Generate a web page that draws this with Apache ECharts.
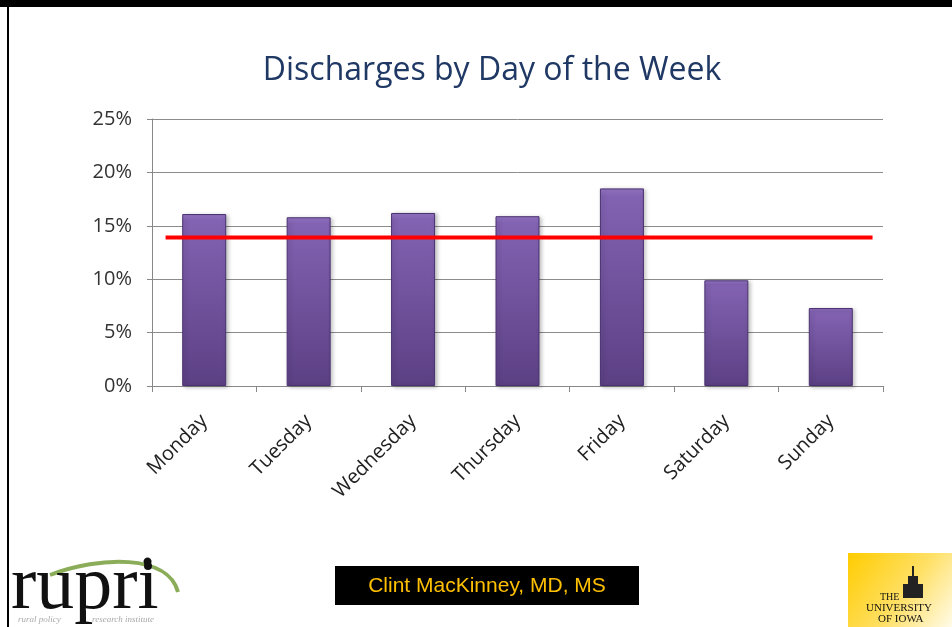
<!DOCTYPE html>
<html>
<head>
    <meta charset="utf-8">
    <title>Discharges by Day of the Week</title>
    <script src="https://cdn.jsdelivr.net/npm/echarts@6/dist/echarts.min.js"></script>
    <style>
        html, body { margin: 0; padding: 0; background: #fff; }
    </style>
</head>
<body>
<div id="main" style="width: 952px;height:627px;"></div>
<script type="text/javascript">
    // data
    var days = ['Monday', 'Tuesday', 'Wednesday', 'Thursday', 'Friday', 'Saturday', 'Sunday'];
    var discharges = [16.1, 15.8, 16.2, 15.9, 18.5, 9.9, 7.3];
    var averageShare = [13.9];
    var averageSpan = [0.13, 6.9];   // in category units, red line doesn't run edge to edge
    var yTicks = [0, 5, 10, 15, 20, 25];

    var myChart = echarts.init(document.getElementById('main'));

    var barColor = new echarts.graphic.LinearGradient(0, 0, 0, 1, [
        {offset: 0, color: '#9577c6'},
        {offset: 0.04, color: '#8262b2'},
        {offset: 1, color: '#5c4084'}
    ]);

    myChart.setOption({
        animation: false,
        title: {
            text: 'Discharges by Day of the Week',
            left: 487,
            textAlign: 'center',
            top: 50,
            textStyle: {
                fontFamily: 'Open Sans',
                fontWeight: 'normal',
                fontSize: 32,
                color: '#1f3864'
            }
        },
        grid: {left: 152, right: 69, top: 119, bottom: 241},
        xAxis: [{
            type: 'category',
            data: days,
            axisLine: {lineStyle: {color: '#888', width: 1}},
            axisTick: {show: true, length: 6, lineStyle: {color: '#888'}},
            axisLabel: {
                rotate: 45,
                margin: 32,
                fontFamily: 'Open Sans',
                fontSize: 20,
                color: '#222'
            }
        }, {
            type: 'value',
            min: 0,
            max: days.length,
            show: false
        }],
        yAxis: {
            type: 'value',
            min: yTicks[0],
            max: yTicks[yTicks.length - 1],
            interval: 5,
            axisLine: {show: true, lineStyle: {color: '#888'}},
            axisTick: {show: true, length: 5, lineStyle: {color: '#888'}},
            splitLine: {lineStyle: {color: '#8c8c8c', width: 1}},
            axisLabel: {
                formatter: '{value}%',
                margin: 20,
                fontFamily: 'Open Sans',
                fontSize: 20,
                color: '#333'
            }
        },
        series: [{
            type: 'bar',
            data: discharges,
            barWidth: 44,
            itemStyle: {
                color: barColor,
                borderColor: '#4a3270',
                borderWidth: 1,
                shadowColor: 'rgba(0,0,0,0.25)',
                shadowBlur: 4,
                shadowOffsetX: 2,
                shadowOffsetY: 1
            }
        }, {
            type: 'line',
            xAxisIndex: 1,
            data: averageSpan.map(function (x) { return [x, averageShare[0]]; }),
            symbol: 'none',
            lineStyle: {color: '#ff0000', width: 4},
            z: 5
        }],
        graphic: [
            // slide frame
            {type: 'rect', shape: {x: 0, y: 0, width: 952, height: 7}, style: {fill: '#000'}},
            {type: 'rect', shape: {x: 7, y: 0, width: 2, height: 627}, style: {fill: '#000'}},
            // rupri logo
            {
                type: 'bezierCurve',
                shape: {x1: 50, y1: 575, cpx1: 100, cpy1: 556, cpx2: 168, cpy2: 554, x2: 178, y2: 592},
                style: {stroke: '#8bad5a', lineWidth: 4, fill: null}
            },
            {type: 'circle', shape: {cx: 148, cy: 566, r: 4}, style: {fill: '#111'}},
            {
                type: 'text',
                style: {x: 11, y: 550, text: 'rupri', font: '76px "Liberation Serif"', fill: '#111', verticalAlign: 'top'}
            },
            {
                type: 'text',
                style: {x: 18, y: 615, text: 'rural policy', font: 'italic 9px "Liberation Serif"', fill: '#aaa', verticalAlign: 'top'}
            },
            {
                type: 'text',
                style: {x: 92, y: 615, text: 'research institute', font: 'italic 9px "Liberation Serif"', fill: '#aaa', verticalAlign: 'top'}
            },
            // presenter box
            {type: 'rect', shape: {x: 335, y: 566, width: 304, height: 39}, style: {fill: '#000'}},
            {
                type: 'text',
                style: {
                    x: 487, y: 586,
                    text: 'Clint MacKinney, MD, MS',
                    font: '21px "Liberation Sans"',
                    fill: '#ffc000',
                    align: 'center',
                    verticalAlign: 'middle'
                }
            },
            // university of iowa logo
            {
                type: 'rect',
                shape: {x: 848, y: 553, width: 104, height: 74},
                style: {
                    fill: new echarts.graphic.LinearGradient(0, 0, 1, 1, [
                        {offset: 0, color: '#ffcc00'},
                        {offset: 0.55, color: '#ffe066'},
                        {offset: 1, color: '#fffbe8'}
                    ])
                }
            },
            {type: 'rect', shape: {x: 903, y: 584, width: 20, height: 14}, style: {fill: '#222'}},
            {type: 'rect', shape: {x: 908, y: 576, width: 10, height: 8}, style: {fill: '#222'}},
            {type: 'rect', shape: {x: 912, y: 566, width: 2, height: 10}, style: {fill: '#222'}},
            {
                type: 'text',
                style: {x: 880, y: 592, text: 'THE', font: '10px "Liberation Serif"', fill: '#111'}
            },
            {
                type: 'text',
                style: {x: 866, y: 603, text: 'UNIVERSITY', font: '11px "Liberation Serif"', fill: '#111'}
            },
            {
                type: 'text',
                style: {x: 878, y: 614, text: 'OF IOWA', font: '11px "Liberation Serif"', fill: '#111'}
            }
        ]
    });
</script>
</body>
</html>
